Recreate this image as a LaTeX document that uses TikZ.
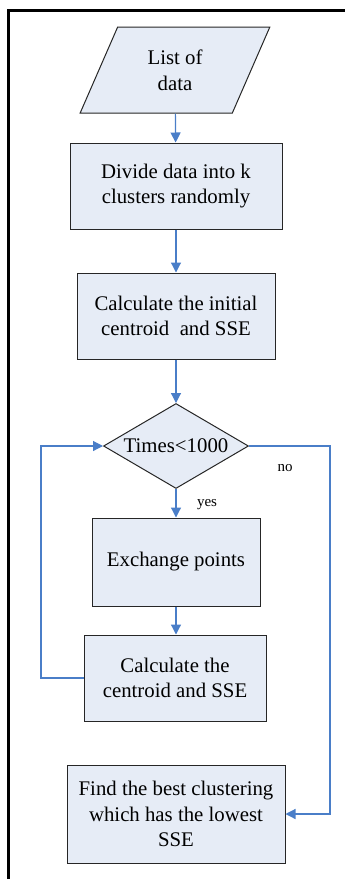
\documentclass[tikz,border=0pt]{standalone}
\usepackage{fontspec}
\setmainfont{Liberation Serif}
\usepackage{xcolor}
\usetikzlibrary{shapes.geometric, arrows.meta}

\definecolor{boxfill}{RGB}{230,236,246}
\definecolor{flowblue}{RGB}{74,126,200}

\tikzset{
	stepbox/.style={draw=black!85, line width=0.5pt, fill=boxfill, align=center, inner sep=2pt,
		font=\fontsize{10.4}{12.8}\selectfont},
	flow/.style={draw=flowblue, line width=0.6pt, -{Triangle[width=5pt,length=5pt]}},
	lbl/.style={font=\fontsize{7.5}{8}\selectfont}
}

\begin{document}
\begin{tikzpicture}[x=0.5pt,y=-0.5pt]
		\useasboundingbox (0,0) rectangle (345,879);
		
		% Frame
		\draw[line width=1.5pt] (8,879) -- (8,10) -- (345,10);
		
		\node[stepbox, trapezium, trapezium left angle=67, trapezium right angle=113, trapezium stretches=true,
			minimum width=95pt, minimum height=43pt] (data) at (175,70) {List of\\data};
		\node[stepbox, minimum width=106pt, minimum height=43pt] (divide) at (176,186) {Divide data into k\\clusters randomly};
		\node[stepbox, minimum width=99pt, minimum height=43pt] (init) at (176,316) {Calculate the initial\\centroid\ \ and SSE};
		\node[stepbox, diamond, shape aspect=1.7, minimum width=72.5pt, minimum height=42.5pt, inner sep=0pt] (times) at (176,446) {Times<1000};
		\node[stepbox, minimum width=84pt, minimum height=44pt] (exch) at (176,562) {Exchange points};
		\node[stepbox, minimum width=91pt, minimum height=43pt] (calc) at (175,678) {Calculate the\\centroid and SSE};
		\node[stepbox, minimum width=109pt, minimum height=49pt] (best) at (176,814) {Find the best clustering\\which has the lowest\\SSE};
		
		\coordinate (loopL) at (41,678);
		\coordinate (noR) at (330,446);
		
		\draw[flow] (data) -- (divide);
		\draw[flow] (divide) -- (init);
		\draw[flow] (init) -- (times);
		\draw[flow] (times) -- (exch);
		\draw[flow] (exch.south) -- (exch.south |- calc.north);
		
		% Loop back
		\draw[flow] (calc.west) -- (loopL) |- (times.west);
		
		% Exit
		\draw[flow] (times.east) -- (noR) |- (best.east);
		
		\node[lbl] (no) at (285,468) {no};
		\node[lbl] (yes) at (207,505) {yes};
	\end{tikzpicture}
\end{document}
